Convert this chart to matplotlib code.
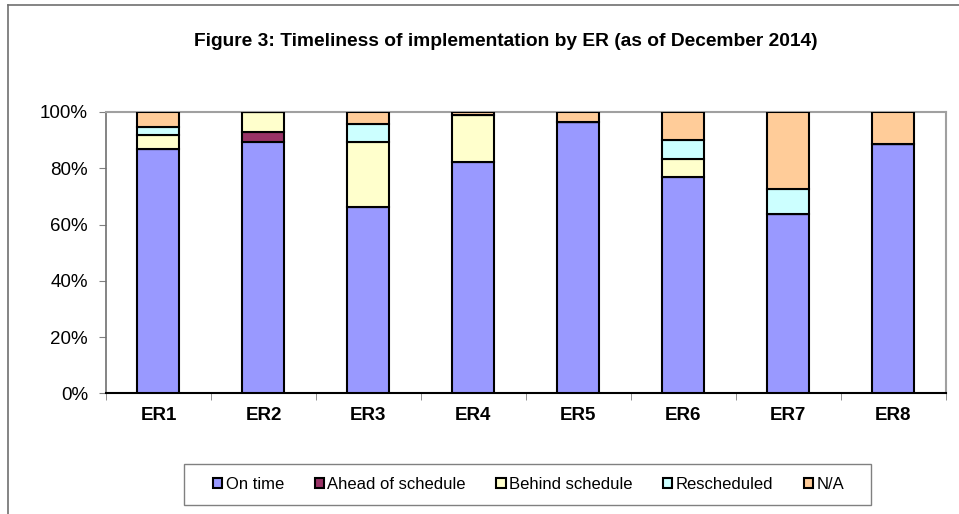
import matplotlib
matplotlib.use("Agg")
import matplotlib.pyplot as plt
from matplotlib.lines import Line2D
from matplotlib.patches import Rectangle
import numpy as np

categories = ["ER1", "ER2", "ER3", "ER4", "ER5", "ER6", "ER7", "ER8"]
on_time = [86.7, 89.4, 66.4, 82.1, 96.4, 77.0, 63.6, 88.5]
ahead = [0.0, 3.6, 0.0, 0.0, 0.0, 0.0, 0.0, 0.0]
behind = [5.3, 7.0, 23.0, 16.8, 0.0, 6.3, 0.0, 0.0]
rescheduled = [2.8, 0.0, 6.2, 0.0, 0.0, 6.6, 9.0, 0.0]
na = [5.2, 0.0, 4.4, 1.1, 3.6, 10.1, 27.4, 11.5]
series_names = ["On time", "Ahead of schedule", "Behind schedule", "Rescheduled", "N/A"]
colors = ["#9999FF", "#993366", "#FFFFCC", "#CCFFFF", "#FFCC99"]
yticks = [0, 20, 40, 60, 80, 100]
ytick_labels = ["0%", "20%", "40%", "60%", "80%", "100%"]

plt.rcParams["font.family"] = ["Liberation Sans", "DejaVu Sans"]

W, H = 959, 514
fig = plt.figure(figsize=(W / 100, H / 100), dpi=100)
ax = fig.add_axes([106 / W, 1 - 393.3 / H, (945.7 - 106) / W, (393.3 - 112) / H])

x = np.arange(len(categories))
bottom = np.zeros(len(categories))
for name, vals, col in zip(series_names, [on_time, ahead, behind, rescheduled, na], colors):
    vals = np.array(vals)
    ax.bar(x, vals, 0.4, bottom=bottom, color=col, edgecolor="black", linewidth=1.5,
           label=name, zorder=3)
    bottom += vals

ax.set_xlim(-0.5, len(categories) - 0.5)
ax.set_ylim(0, 100)
ax.set_yticks(yticks)
ax.set_yticklabels(ytick_labels, fontsize=13.5)
ax.set_xticks(x)
ax.set_xticklabels(categories, fontsize=13.5, fontweight="bold")
ax.set_xticks(np.arange(-0.5, len(categories)), minor=True)
ax.tick_params(axis="x", which="major", length=0, pad=10)
ax.tick_params(axis="x", which="minor", length=5, direction="out", color="#808080")
ax.tick_params(axis="y", length=5, direction="out", color="#808080", pad=8)

for s in ["top", "right"]:
    ax.spines[s].set_color("#A0A0A0")
    ax.spines[s].set_linewidth(1.5)
ax.spines["left"].set_color("#707070")
ax.spines["left"].set_linewidth(1.2)
ax.spines["bottom"].set_color("black")
ax.spines["bottom"].set_linewidth(1.5)

fig.text(505.5 / W, 1 - 42 / H, "Figure 3: Timeliness of implementation by ER (as of December 2014)",
         ha="center", va="center", fontsize=13.8, fontweight="bold")

handles = [Rectangle((0, 0), 1, 1, facecolor=c, edgecolor="black", linewidth=1.5) for c in colors]
leg = fig.legend(handles, series_names, loc="center left", bbox_to_anchor=(213 / W, 1 - 484.5 / H),
                 ncol=5, fontsize=12, frameon=False, handlelength=0.55,
                 handleheight=0.55, handletextpad=0.2, columnspacing=1.85,
                 borderpad=0, borderaxespad=0)

# legend box
fig.add_artist(Rectangle((183.5 / W, 1 - 505 / H), (871 - 183.5) / W, (505 - 464) / H,
                         transform=fig.transFigure, facecolor="none", edgecolor="#808080",
                         linewidth=1.0))

# outer chart border (top and left visible)
fig.add_artist(Line2D([8 / W, 1], [1 - 5 / H, 1 - 5 / H], color="#707070", linewidth=1.2,
                      transform=fig.transFigure))
fig.add_artist(Line2D([8 / W, 8 / W], [0, 1 - 5 / H], color="#707070", linewidth=1.2,
                      transform=fig.transFigure))

fig.savefig("out.png", dpi=100)
